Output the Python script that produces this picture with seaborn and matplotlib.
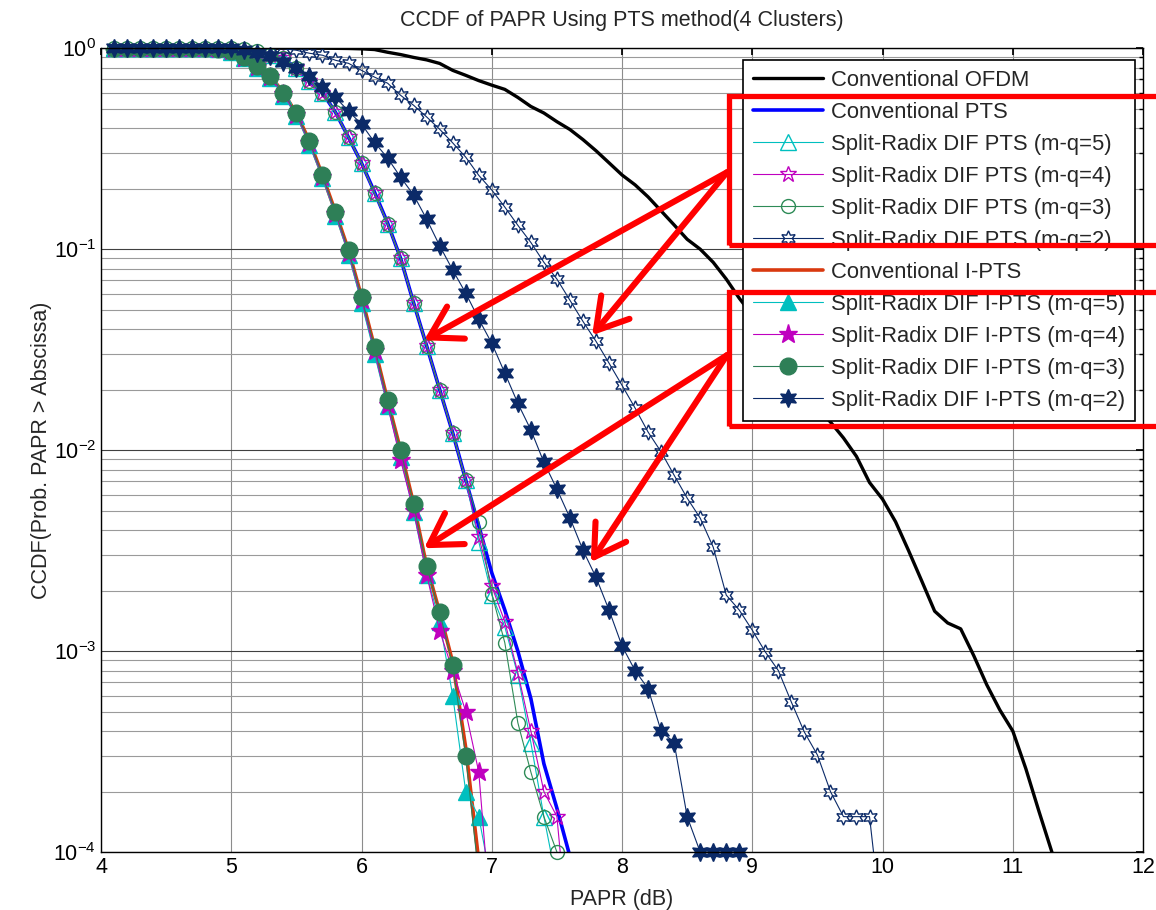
import numpy as np
import matplotlib
matplotlib.use("Agg")
import matplotlib.pyplot as plt
from matplotlib.patches import Rectangle
import seaborn as sns

# --- data (CCDF values, 0.1 dB steps from 4.1 dB) ---
PAPR_START = 4.1

conv_ofdm = [1.0] * 17 + [0.999, 0.997, 0.993,                      # 4.1 .. 6.0
             0.985, 0.955, 0.93, 0.90, 0.875, 0.84, 0.776, 0.733, 0.69, 0.655,
             0.624, 0.569, 0.513, 0.476, 0.431, 0.394, 0.351, 0.309, 0.269, 0.234,
             0.209, 0.182, 0.155, 0.132, 0.112, 0.100, 0.086, 0.071, 0.057, 0.047,
             0.038, 0.0316, 0.0251, 0.020, 0.0162, 0.0138, 0.0115, 0.0093, 0.0069, 0.0057,
             0.0044, 0.00316, 0.00224, 0.00158, 0.00138, 0.00129, 0.00095, 0.00068, 0.00051, 0.0004,
             0.00026, 0.00016, 0.0001, 0.00004]

conv_pts = [1.0] * 9 + [0.995,                                          # 4.1 .. 5.0
            0.985, 0.965, 0.925, 0.885, 0.80, 0.69, 0.60, 0.48, 0.36, 0.268,
            0.192, 0.135, 0.09, 0.054, 0.033, 0.020, 0.0122, 0.0071, 0.0042, 0.00245,
            0.0016, 0.0010, 0.00058, 0.000275, 0.000165, 0.000095]

pts_common = [1.0] * 10 + [0.99, 0.97, 0.93, 0.89, 0.80, 0.69, 0.60, 0.48, 0.36, 0.268,
              0.19, 0.134, 0.09, 0.054, 0.033, 0.020, 0.0122, 0.0071]     # 4.1 .. 6.8
sr_pts_5 = pts_common + [0.0035, 0.0019, 0.00132, 0.00076, 0.00035, 0.00015, 0.00007]
sr_pts_4 = pts_common + [0.0037, 0.0021, 0.0014, 0.00078, 0.00040, 0.00020, 0.00015, 0.00003]
sr_pts_3 = pts_common + [0.0044, 0.00193, 0.0011, 0.00044, 0.00025, 0.00015, 0.0001]
sr_pts_2 = [1.0] * 13 + [0.995, 0.977, 0.944, 0.923, 0.871, 0.841, 0.776,   # 4.1 .. 6.0
            0.718, 0.67, 0.583, 0.52, 0.455, 0.395, 0.338, 0.287, 0.233, 0.197,
            0.162, 0.1315, 0.108, 0.086, 0.071, 0.0557, 0.0437, 0.0348, 0.0271, 0.021,
            0.0162, 0.0123, 0.0098, 0.0075, 0.00577, 0.00459, 0.00329, 0.0019, 0.0016, 0.00127,
            0.00099, 0.0008, 0.000557, 0.000395, 0.000304, 0.0002, 0.00015, 0.00015, 0.00015, 0.00004]

conv_ipts = [1.0] * 8 + [0.995, 0.97,                                   # 4.1 .. 5.0
             0.90, 0.82, 0.73, 0.60, 0.475, 0.345, 0.233, 0.153, 0.099, 0.058,
             0.0325, 0.0177, 0.010, 0.0054, 0.00265, 0.00156, 0.00088, 0.00033, 0.00009]
sr_ipts_5 = [1.0] * 8 + [0.99, 0.96,
             0.89, 0.80, 0.71, 0.58, 0.46, 0.33, 0.225, 0.147, 0.094, 0.054,
             0.030, 0.0165, 0.0092, 0.0049, 0.0024, 0.0014, 0.0006, 0.0002, 0.00015, 0.000068]
sr_ipts_4 = [1.0] * 8 + [0.995, 0.965,
             0.895, 0.81, 0.72, 0.59, 0.465, 0.338, 0.228, 0.15, 0.096, 0.056,
             0.031, 0.0168, 0.0089, 0.005, 0.0024, 0.00126, 0.0008, 0.0005, 0.00025, 0.00004]
sr_ipts_3 = [1.0] * 8 + [0.995, 0.97,
             0.90, 0.82, 0.73, 0.60, 0.475, 0.345, 0.233, 0.153, 0.099, 0.058,
             0.0325, 0.0177, 0.010, 0.0054, 0.00265, 0.00156, 0.00085, 0.0003, 0.000076]
sr_ipts_2 = [1.0] * 10 + [0.98, 0.944, 0.912, 0.851, 0.794, 0.726, 0.64, 0.57, 0.486, 0.419,
             0.34, 0.284, 0.228, 0.186, 0.141, 0.104, 0.0787, 0.0604, 0.0449, 0.034,
             0.0242, 0.0171, 0.0126, 0.0087, 0.0064, 0.0046, 0.00318, 0.00233, 0.0016, 0.00106,
             0.0008, 0.00065, 0.0004, 0.00035, 0.00015, 0.0001, 0.0001, 0.0001, 0.0001]

series_labels = [
    "Conventional OFDM", "Conventional PTS",
    "Split-Radix DIF PTS (m-q=5)", "Split-Radix DIF PTS (m-q=4)",
    "Split-Radix DIF PTS (m-q=3)", "Split-Radix DIF PTS (m-q=2)",
    "Conventional I-PTS",
    "Split-Radix DIF I-PTS (m-q=5)", "Split-Radix DIF I-PTS (m-q=4)",
    "Split-Radix DIF I-PTS (m-q=3)", "Split-Radix DIF I-PTS (m-q=2)",
]
series_values = [conv_ofdm, conv_pts, sr_pts_5, sr_pts_4, sr_pts_3, sr_pts_2,
                 conv_ipts, sr_ipts_5, sr_ipts_4, sr_ipts_3, sr_ipts_2]

# --- styles ---
CYAN, MAGENTA, SEAGREEN, NAVY = "#00bfbf", "#bf00bf", "#2e8b57", "#0b2a68"
HEXAGRAM = (6, 1, 0)
styles = [
    dict(color="black", lw=2.4),
    dict(color="#0000ff", lw=2.6),
    dict(color=CYAN, lw=0.8, marker="^", ms=11, mfc="none"),
    dict(color=MAGENTA, lw=0.8, marker="*", ms=12, mfc="none"),
    dict(color=SEAGREEN, lw=0.8, marker="o", ms=10, mfc="none", clip_on=False),
    dict(color=NAVY, lw=0.8, marker=HEXAGRAM, ms=11, mfc="none"),
    dict(color="#d9390f", lw=2.6),
    dict(color=CYAN, lw=0.8, marker="^", ms=11),
    dict(color=MAGENTA, lw=0.8, marker="*", ms=14),
    dict(color="#2e7f57", lw=0.8, marker="o", ms=12),
    dict(color=NAVY, lw=0.8, marker=HEXAGRAM, ms=13, clip_on=False),
]

sns.set_theme(style="white")
plt.rcParams["font.family"] = ["Liberation Sans", "DejaVu Sans"]
plt.rcParams["mathtext.fontset"] = "custom"
plt.rcParams["mathtext.rm"] = "Liberation Sans"

fig, ax = plt.subplots(figsize=(11.56, 9.10), dpi=100)
fig.subplots_adjust(left=0.0874, right=0.9888, bottom=0.0637, top=0.947)
ax.set_yscale("log")

for label, values, st in zip(series_labels, series_values, styles):
    x = np.round(PAPR_START + 0.1 * np.arange(len(values)), 1)
    st = dict(st)
    color = st.pop("color")
    if "marker" in st:
        st.setdefault("mfc", color)
        st["mec"] = color
        st["mew"] = 1.0
    sns.lineplot(x=x, y=values, ax=ax, color=color, label=label,
                 errorbar=None, sort=False, **st)

ax.set_xlim(4, 12)
ax.set_ylim(1e-4, 1)
ax.set_xticks(range(4, 13))
ax.set_title("CCDF of PAPR Using PTS method(4 Clusters)", fontsize=15.5, pad=16)
ax.set_xlabel("PAPR (dB)", fontsize=15.5, labelpad=8)
ax.set_ylabel("CCDF(Prob. PAPR > Abscissa)", fontsize=15.5, labelpad=1)

ax.grid(True, which="major", axis="x", color="#8c8c8c", lw=0.8)
ax.grid(True, which="major", axis="y", color="#404040", lw=0.8)
ax.grid(True, which="minor", axis="y", color="#9a9a9a", lw=0.8)
ax.tick_params(which="both", direction="in", top=True, right=True, labelsize=15.5,
               colors="black")
ax.tick_params(which="major", length=5)
ax.tick_params(which="minor", length=3)
for s in ax.spines.values():
    s.set_visible(True)
    s.set_color("black")
    s.set_linewidth(1.0)

handles, labels = ax.get_legend_handles_labels()
leg = ax.legend(handles, labels, loc="upper right", bbox_to_anchor=(0.992, 0.985),
                borderaxespad=0, fontsize=15.8, handlelength=3.2, handletextpad=0.35,
                labelspacing=0.5, borderpad=0.45, fancybox=False, framealpha=1,
                edgecolor="black")
leg.get_frame().set_linewidth(1.2)

# red highlight boxes and arrows
for y0, h in [(0.7556, 0.1854), (0.530, 0.1665)]:
    ax.add_patch(Rectangle((0.603, y0), 0.45, h, transform=ax.transAxes, fill=False,
                           edgecolor="red", lw=3.8, clip_on=False, zorder=10))

arrows = [((8.806, 0.2415), (6.48, 0.0352)), ((8.806, 0.2415), (7.77, 0.0373)),
          ((8.806, 0.0297), (6.48, 0.00325)), ((8.806, 0.0297), (7.76, 0.00277))]
for start, tip in arrows:
    ax.annotate("", xy=tip, xytext=start, zorder=10,
                arrowprops=dict(arrowstyle="->, head_length=0.5, head_width=0.3",
                                color="red", lw=4.4, mutation_scale=44,
                                shrinkA=0, shrinkB=0))

fig.savefig("out.png", dpi=100)
